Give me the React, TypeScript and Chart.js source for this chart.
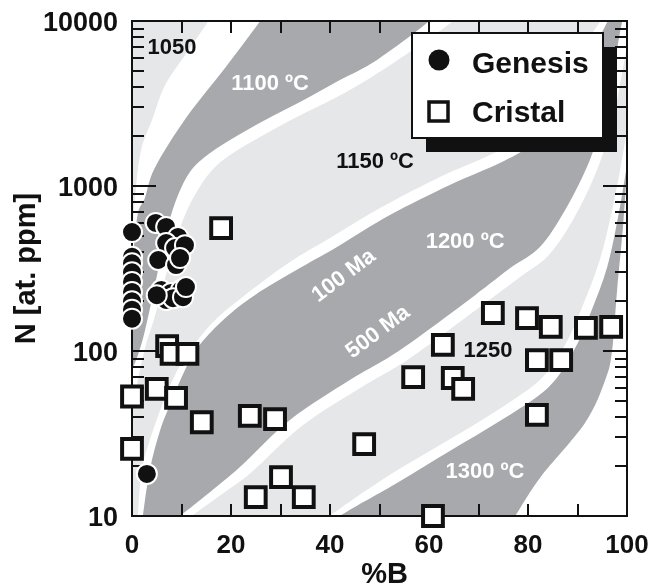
import React, { useEffect, useRef } from 'react';
import { Chart, registerables } from 'chart.js';

Chart.register(...registerables);

// ---------- axis ticks ----------
const X_TICKS = [0, 20, 40, 60, 80, 100];
const Y_TICKS = [10, 100, 1000, 10000];
const X_TITLE = '%B';
const Y_TITLE = 'N [at. ppm]';

// ---------- data ----------
const GENESIS_X = [0, 0, 0, 0, 0, 0, 0, 0, 0, 4.8, 6.9, 9.3, 6.9, 8.7, 10.7, 5.3, 8.9, 9.7, 5.9, 7.9, 9.9, 6.9, 8.3, 10.3, 10.9, 5.0, 3.0];
const GENESIS_N = [526, 372, 340, 300, 262, 228, 200, 178, 157, 597, 565, 491, 451, 421, 438, 356, 332, 366, 234, 225, 234, 204, 209, 212, 244, 218, 18];

const CRISTAL_X = [18, 0, 0, 5, 8.9, 14.1, 7.1, 8, 11.2, 23.8, 28.9, 25, 30.1, 34.7, 46.9, 60.8, 56.8, 62.8, 64.8, 66.9, 72.9, 79.8, 84.6, 81.8, 86.7, 81.8, 91.7, 96.8];
const CRISTAL_N = [556, 53, 25.5, 59, 52, 37, 107, 96, 96, 40.4, 38.7, 13, 17.2, 13, 27.3, 10, 69.5, 109, 68.6, 59, 170, 158, 140, 88, 88, 41, 138, 140];

// ---------- isotherm band boundaries [%B, N] ----------
const EDGE_LEFT: number[][] = [[-10, 1], [-10, 100000]];
const C1: number[][] = [[-1, 250], [0, 471], [0.6, 845], [1.8, 1630], [4.2, 2580], [6.7, 4090], [11.3, 6580], [15.4, 10000], [16.5, 12000]];
const C2: number[][] = [[-1, 150], [0, 310], [0.4, 427], [1.2, 686], [2.6, 845], [4.6, 1285], [10.9, 2580], [18.8, 5190], [25.9, 10000], [27.5, 12000]];
const C3: number[][] = [[-1, 60], [0.2, 78.9], [1.2, 94.6], [2.4, 125], [4.0, 204], [5.7, 356], [7.3, 580], [9.3, 881], [11.7, 1216], [14.7, 1500], [19.8, 1901], [26.9, 2512], [34.7, 3320], [42.0, 4385], [49.5, 5810], [59.8, 9860], [62, 12000]];
const C4: number[][] = [[-1, 5], [-1, 30], [0, 40.9], [0.4, 50.5], [1.4, 71.6], [2.8, 109], [4.4, 154], [6.3, 251], [8.3, 409], [10.7, 667], [13.3, 946], [16.2, 1250], [19.8, 1542], [25.5, 1954], [32.9, 2583], [41.0, 3412], [48.1, 4520], [55.2, 6220], [64.6, 9860], [67, 12000]];
const C5: number[][] = [[1.1, 5], [1.2, 10], [2.0, 19], [3.6, 28.9], [6.1, 47.1], [8.7, 71.6], [11.7, 101], [16.8, 154], [22.8, 218], [31.9, 346], [40.0, 484], [50.1, 736], [62.2, 1135], [72.3, 1542], [78.4, 1982], [84.4, 3228], [89.5, 5970], [94.5, 9860], [96.5, 13000]];
const C6: number[][] = [[2.0, 8], [2.2, 10], [3.6, 19], [5.7, 33.2], [8.1, 50.5], [10.7, 76.7], [13.7, 109], [18.8, 158], [24.8, 218], [33.9, 318], [42.0, 438], [52.1, 667], [64.2, 1014], [74.3, 1377], [80.4, 1770], [86.5, 2890], [91.5, 5410], [96.0, 9860], [97.5, 13000]];
const C7: number[][] = [[6.5, 8.3], [9.7, 10], [15.8, 14], [21.8, 19.8], [31.9, 38.2], [44.0, 66.7], [54.1, 101], [69.3, 218], [76.4, 318], [82.4, 427], [87.5, 716], [92.5, 1439], [95.6, 2890], [97.6, 5810], [99.0, 9860], [100.5, 14000]];
const C8: number[][] = [[9.5, 8.3], [12.1, 10], [18.2, 13.6], [24.2, 18.5], [34.3, 35.1], [46.1, 59.7], [56.2, 90.8], [71.3, 195], [78.4, 281], [84.2, 382], [89.3, 640], [94.1, 1285], [97.2, 2580], [99.2, 5190], [100.6, 9080]];
const C9: number[][] = [[37, 8], [40.0, 10], [51.1, 17], [62.2, 26.9], [72.3, 40.9], [82.4, 66.7], [87.5, 109], [91.1, 190], [94.5, 356], [97.0, 716], [98.6, 1250], [100.0, 2183], [101.4, 3820]];
const C10: number[][] = [[39, 8], [42.0, 10], [53.1, 15.6], [64.2, 24.8], [74.3, 37.6], [84.0, 59.7], [89.1, 98.6], [92.7, 172], [96.0, 323], [98.2, 649], [99.6, 1135], [101.0, 1982]];
const C11: number[][] = [[75, 8], [77.4, 10], [82.4, 17], [91.5, 36.6], [95.6, 66.7], [97.0, 101], [98.0, 234], [99.3, 622], [100.2, 1652], [100.8, 4390], [102, 10400]];

const BANDS = [
  { upper: EDGE_LEFT, lower: C1, tone: 'light' },
  { upper: C2, lower: C3, tone: 'dark' },
  { upper: C4, lower: C5, tone: 'light' },
  { upper: C6, lower: C7, tone: 'dark' },
  { upper: C8, lower: C9, tone: 'light' },
  { upper: C10, lower: C11, tone: 'dark' },
];

// ---------- annotations ----------
const LABEL_TEXT = ['1050', '1100 ºC', '1150 ºC', '1200 ºC', '1250', '1300 ºC', '100 Ma', '500 Ma'];
const LABEL_X = [8.1, 27.9, 49.1, 67.3, 71.9, 71.3, 42.8, 49.7];
const LABEL_N = [6860, 4150, 1397, 458, 100, 18.5, 285, 130];
const LABEL_WHITE = [false, true, false, true, false, true, true, true];
const LABEL_ANGLE = [0, 0, 0, 0, 0, 0, -37, -37];

const LEGEND_LABELS = ['Genesis', 'Cristal'];

const LIGHT = '#e6e7e8';
const DARK = '#a7a9ac';
const INK = '#111111';
const FONT = '"Liberation Sans", Arial, Helvetica, sans-serif';

function tracePath(ctx: CanvasRenderingContext2D, pts: number[][], first: boolean) {
  if (!pts.length) return;
  if (first) ctx.moveTo(pts[0][0], pts[0][1]);
  else ctx.lineTo(pts[0][0], pts[0][1]);
  for (let i = 0; i < pts.length - 1; i++) {
    const p0 = pts[i - 1] || pts[i];
    const p1 = pts[i];
    const p2 = pts[i + 1];
    const p3 = pts[i + 2] || p2;
    const c1x = p1[0] + (p2[0] - p0[0]) / 6;
    const c1y = p1[1] + (p2[1] - p0[1]) / 6;
    const c2x = p2[0] - (p3[0] - p1[0]) / 6;
    const c2y = p2[1] - (p3[1] - p1[1]) / 6;
    ctx.bezierCurveTo(c1x, c1y, c2x, c2y, p2[0], p2[1]);
  }
}

const backgroundPlugin = {
  id: 'isothermBands',
  beforeDatasetsDraw(chart: any) {
    const { ctx, chartArea: a, scales } = chart;
    const xs = scales.x;
    const ys = scales.y;
    const toPx = (p: number[]) => [xs.getPixelForValue(p[0]), ys.getPixelForValue(p[1])];

    ctx.save();
    ctx.beginPath();
    ctx.rect(a.left, a.top, a.right - a.left, a.bottom - a.top);
    ctx.clip();
    ctx.fillStyle = '#ffffff';
    ctx.fillRect(a.left, a.top, a.right - a.left, a.bottom - a.top);

    BANDS.forEach((b) => {
      const up = b.upper.map(toPx);
      const lo = b.lower.map(toPx).reverse();
      ctx.beginPath();
      tracePath(ctx, up, true);
      tracePath(ctx, lo, false);
      ctx.closePath();
      ctx.fillStyle = b.tone === 'light' ? LIGHT : DARK;
      ctx.fill();
    });

    // in-plot labels
    ctx.textAlign = 'center';
    ctx.textBaseline = 'middle';
    LABEL_TEXT.forEach((t, i) => {
      const px = xs.getPixelForValue(LABEL_X[i]);
      const py = ys.getPixelForValue(LABEL_N[i]);
      ctx.save();
      ctx.translate(px, py);
      ctx.rotate((LABEL_ANGLE[i] * Math.PI) / 180);
      ctx.font = `bold 22px ${FONT}`;
      ctx.fillStyle = LABEL_WHITE[i] ? '#ffffff' : INK;
      ctx.fillText(t, 0, 0);
      ctx.restore();
    });
    ctx.restore();

    // frame and inner ticks
    ctx.save();
    ctx.strokeStyle = INK;
    ctx.lineWidth = 2;
    ctx.beginPath();
    for (let v = 10; v < 100; v += 10) {
      const px = Math.round(xs.getPixelForValue(v));
      ctx.moveTo(px, a.bottom);
      ctx.lineTo(px, a.bottom - 12);
      ctx.moveTo(px, a.top);
      ctx.lineTo(px, a.top + 12);
    }
    for (let d = 1; d <= 3; d++) {
      for (let m = 1; m <= 9; m++) {
        if (m === 1 && d === 1) continue;
        const v = m * Math.pow(10, d);
        const py = Math.round(ys.getPixelForValue(v));
        const len = m === 1 ? 24 : 12;
        ctx.moveTo(a.left, py);
        ctx.lineTo(a.left + len, py);
        ctx.moveTo(a.right, py);
        ctx.lineTo(a.right - len, py);
      }
    }
    ctx.stroke();
    ctx.strokeRect(a.left, a.top, a.right - a.left, a.bottom - a.top);

    // tick labels and axis titles
    ctx.fillStyle = INK;
    ctx.textBaseline = 'alphabetic';
    ctx.font = `bold 27px ${FONT}`;
    ctx.textAlign = 'right';
    Y_TICKS.forEach((v) => {
      ctx.fillText(String(v), a.left - 14, ys.getPixelForValue(v) + 10);
    });
    ctx.font = `bold 26px ${FONT}`;
    ctx.textAlign = 'center';
    X_TICKS.forEach((v) => {
      ctx.fillText(String(v), xs.getPixelForValue(v), a.bottom + 37);
    });
    ctx.font = `bold 29px ${FONT}`;
    ctx.fillText(X_TITLE, (a.left + a.right) / 2 + 5, a.bottom + 67);
    ctx.save();
    ctx.translate(35, (a.top + a.bottom) / 2);
    ctx.rotate(-Math.PI / 2);
    ctx.fillText(Y_TITLE, 0, 0);
    ctx.restore();
    ctx.restore();
  },
  afterDraw(chart: any) {
    const { ctx, chartArea: a } = chart;
    const bw = 191;
    const bh = 105;
    const bx = a.right - 215;
    const by = a.top + 12;
    ctx.save();
    ctx.fillStyle = INK;
    ctx.fillRect(bx + 14, by + 14, bw, bh);
    ctx.fillStyle = '#ffffff';
    ctx.fillRect(bx, by, bw, bh);
    ctx.strokeStyle = INK;
    ctx.lineWidth = 2;
    ctx.strokeRect(bx, by, bw, bh);

    ctx.fillStyle = INK;
    ctx.beginPath();
    ctx.arc(bx + 27, by + 27, 10.5, 0, Math.PI * 2);
    ctx.fill();

    ctx.lineWidth = 3.5;
    ctx.strokeRect(bx + 26.5 - 9.5, by + 78.5 - 9.5, 19, 19);

    ctx.font = `bold 30px ${FONT}`;
    ctx.textAlign = 'left';
    ctx.textBaseline = 'alphabetic';
    ctx.fillText(LEGEND_LABELS[0], bx + 60, by + 40);
    ctx.fillText(LEGEND_LABELS[1], bx + 60, by + 89);
    ctx.restore();
  },
};

export default function App() {
  const ref = useRef<HTMLCanvasElement | null>(null);

  useEffect(() => {
    if (!ref.current) return;
    const chart = new Chart(ref.current, {
      type: 'scatter',
      data: {
        datasets: [
          {
            label: LEGEND_LABELS[1],
            data: CRISTAL_X.map((x, i) => ({ x, y: CRISTAL_N[i] })),
            pointStyle: 'rect',
            pointRadius: 14,
            pointHoverRadius: 14,
            backgroundColor: '#ffffff',
            borderColor: INK,
            borderWidth: 4,
            clip: false,
          } as any,
          {
            label: LEGEND_LABELS[0],
            data: GENESIS_X.map((x, i) => ({ x, y: GENESIS_N[i] })),
            pointStyle: 'circle',
            pointRadius: 10,
            pointHoverRadius: 10,
            backgroundColor: INK,
            borderColor: '#ffffff',
            borderWidth: 2,
            clip: false,
          } as any,
        ],
      },
      options: {
        responsive: false,
        animation: false,
        devicePixelRatio: 1,
        layout: { padding: { left: 0, right: 23, top: 21, bottom: 0 } },
        plugins: {
          legend: { display: false },
          tooltip: { enabled: false },
        },
        events: [],
        scales: {
          x: {
            type: 'linear',
            min: 0,
            max: 100,
            grid: { display: false },
            border: { display: false },
            afterBuildTicks: (s: any) => {
              s.ticks = X_TICKS.map((v) => ({ value: v }));
            },
            afterFit: (s: any) => {
              s.height = 71;
            },
            ticks: { display: false },
            title: { display: false },
          },
          y: {
            type: 'logarithmic',
            min: 10,
            max: 10000,
            grid: { display: false },
            border: { display: false },
            afterBuildTicks: (s: any) => {
              s.ticks = Y_TICKS.map((v) => ({ value: v }));
            },
            afterFit: (s: any) => {
              s.width = 132;
            },
            ticks: { display: false },
            title: { display: false },
          },
        },
      } as any,
      plugins: [backgroundPlugin],
    });
    return () => chart.destroy();
  }, []);

  return (
    <div style={{ position: 'fixed', left: 0, top: 0, width: 650, height: 587, background: '#ffffff' }}>
      <canvas ref={ref} width={650} height={587} style={{ width: 650, height: 587 }} />
    </div>
  );
}
